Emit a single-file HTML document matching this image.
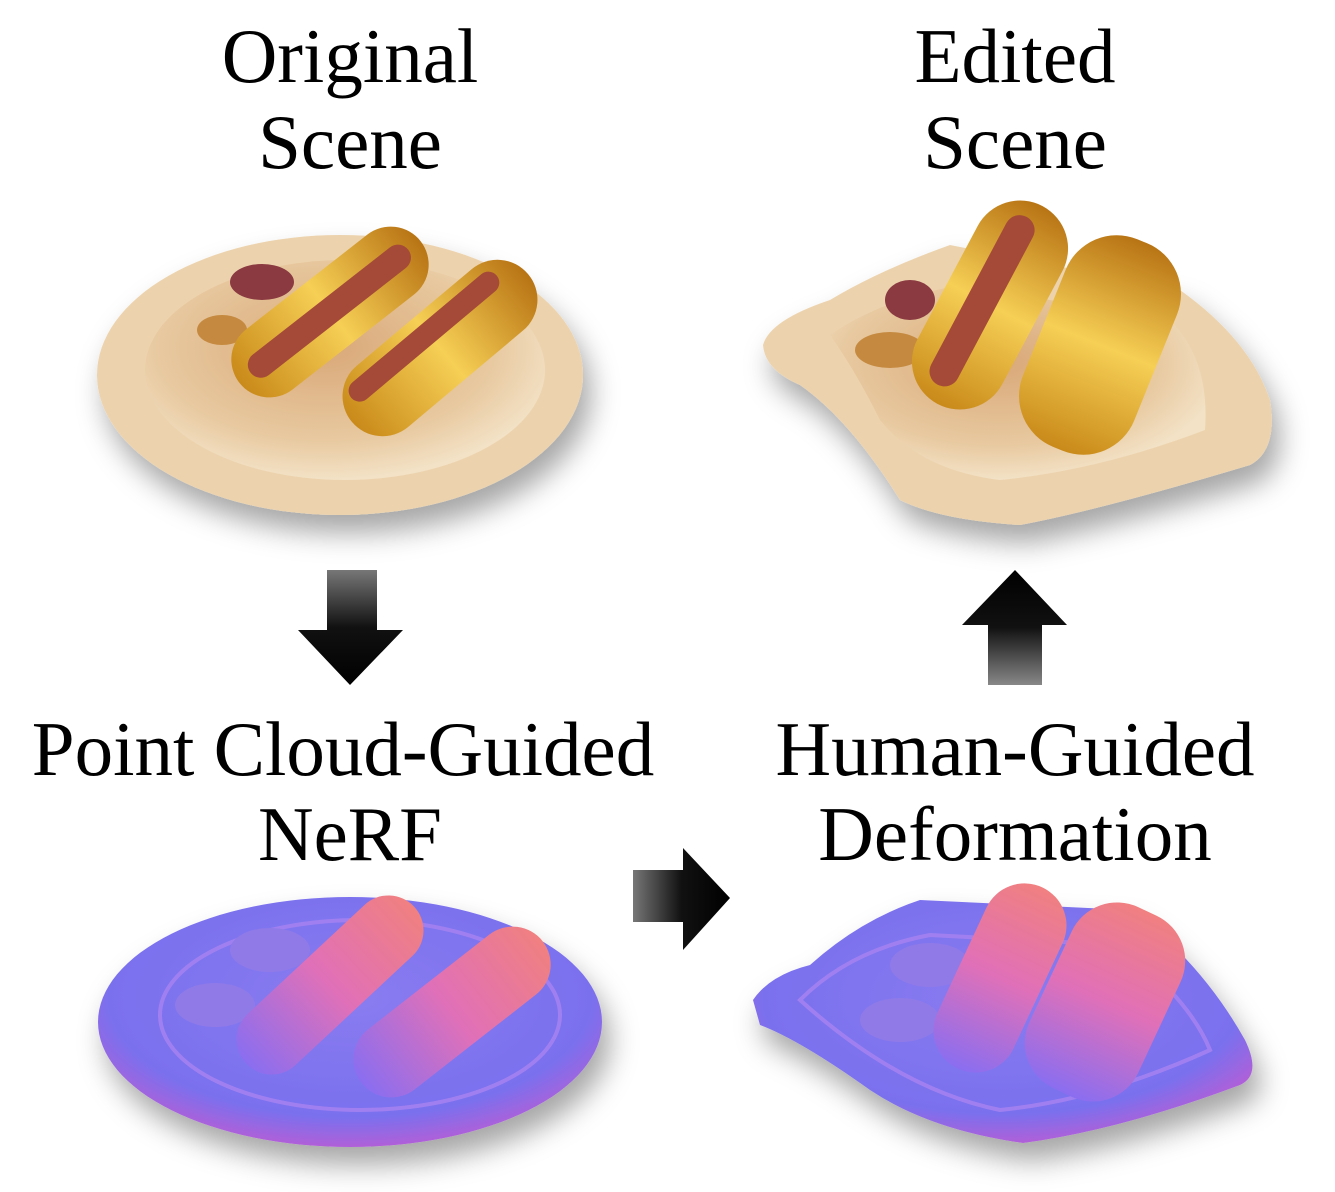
<!DOCTYPE html>
<html><head><meta charset="utf-8"><style>
html,body{margin:0;padding:0;background:#fff;}
svg{display:block;}
text{font-family:"Liberation Serif","DejaVu Serif",serif;font-size:77px;fill:#000;text-anchor:middle;}
</style></head><body>
<svg width="1335" height="1192" viewBox="0 0 1335 1192" xmlns="http://www.w3.org/2000/svg">
<defs>
<linearGradient id="ad" x1="0" y1="0" x2="0" y2="1"><stop offset="0" stop-color="#777"/><stop offset="0.5" stop-color="#111"/><stop offset="1" stop-color="#000"/></linearGradient>
<linearGradient id="au" x1="0" y1="1" x2="0" y2="0"><stop offset="0" stop-color="#888"/><stop offset="0.5" stop-color="#111"/><stop offset="1" stop-color="#000"/></linearGradient>
<linearGradient id="ar" x1="0" y1="0" x2="1" y2="0"><stop offset="0" stop-color="#777"/><stop offset="0.5" stop-color="#111"/><stop offset="1" stop-color="#000"/></linearGradient>
<radialGradient id="plate" cx="0.45" cy="0.4" r="0.6"><stop offset="0" stop-color="#d9a878"/><stop offset="0.7" stop-color="#e8c9a0"/><stop offset="1" stop-color="#f3e2c6"/></radialGradient>
<linearGradient id="bun" x1="0" y1="0" x2="1" y2="0"><stop offset="0" stop-color="#c98a1a"/><stop offset="0.5" stop-color="#f6cf55"/><stop offset="1" stop-color="#b87414"/></linearGradient>
<radialGradient id="np" cx="0.5" cy="0.4" r="0.6"><stop offset="0" stop-color="#8a7cf0"/><stop offset="0.8" stop-color="#7a70ee"/><stop offset="1" stop-color="#b060d8"/></radialGradient>
<linearGradient id="nd" x1="0" y1="0" x2="1" y2="0"><stop offset="0" stop-color="#8a6ef0"/><stop offset="0.5" stop-color="#e070b8"/><stop offset="1" stop-color="#f08080"/></linearGradient>
<filter id="sh" x="-20%" y="-20%" width="140%" height="150%"><feDropShadow dx="8" dy="18" stdDeviation="14" flood-color="#000" flood-opacity="0.35"/></filter>
</defs>

<text x="350" y="82">Original</text>
<text x="350" y="168">Scene</text>
<text x="1015" y="82">Edited</text>
<text x="1015" y="168">Scene</text>
<text x="343" y="775">Point Cloud-Guided</text>
<text x="350" y="860">NeRF</text>
<text x="1015" y="775">Human-Guided</text>
<text x="1015" y="860">Deformation</text>

<!-- arrows -->
<polygon points="327,570 377,570 377,630 403,630 350,685 298,630 327,630" fill="url(#ad)"/>
<polygon points="1015,570 1067,625 1042,625 1042,685 988,685 988,625 962,625" fill="url(#au)"/>
<polygon points="633,870 683,870 683,848 730,898 683,950 683,922 633,922" fill="url(#ar)"/>

<!-- original plate -->
<g filter="url(#sh)">
<ellipse cx="340" cy="375" rx="243" ry="140" fill="#ecd3ae"/>
</g>
<ellipse cx="345" cy="370" rx="200" ry="110" fill="url(#plate)"/>
<ellipse cx="262" cy="282" rx="32" ry="18" fill="#8a3a40"/>
<ellipse cx="222" cy="330" rx="25" ry="15" fill="#c58a40"/>
<g transform="translate(330,312) rotate(-38)"><rect x="-115" y="-38" width="230" height="76" rx="38" fill="url(#bun)"/><rect x="-100" y="-14" width="200" height="26" rx="13" fill="#a54a38"/></g>
<g transform="translate(440,348) rotate(-40)"><rect x="-115" y="-40" width="230" height="80" rx="40" fill="url(#bun)"/><rect x="-100" y="-30" width="190" height="22" rx="11" fill="#a54a38"/></g>

<!-- edited plate -->
<g filter="url(#sh)">
<path d="M763,345 Q770,320 830,300 Q880,270 950,245 L1180,290 Q1250,340 1270,400 Q1278,450 1250,465 Q1100,510 1020,525 Q940,520 900,500 Q850,420 800,385 Q765,370 763,345Z" fill="#ecd3ae"/>
</g>
<path d="M830,335 Q880,300 960,285 L1170,320 Q1210,360 1205,430 Q1100,470 1000,480 Q920,470 880,420 Q855,370 830,335Z" fill="url(#plate)"/>
<ellipse cx="890" cy="350" rx="35" ry="18" fill="#c58a40"/>
<ellipse cx="910" cy="300" rx="25" ry="20" fill="#8a3a40"/>
<g transform="translate(990,305) rotate(-62)"><rect x="-112" y="-48" width="224" height="96" rx="48" fill="url(#bun)"/><rect x="-95" y="-24" width="190" height="30" rx="15" fill="#a54a38"/></g>
<g transform="translate(1100,345) rotate(-68)"><rect x="-112" y="-60" width="224" height="120" rx="55" fill="url(#bun)"/></g>

<!-- normal plate left -->
<g filter="url(#sh)">
<ellipse cx="350" cy="1022" rx="252" ry="125" fill="url(#np)"/>
</g>
<ellipse cx="360" cy="1015" rx="200" ry="95" fill="none" stroke="#a080f0" stroke-width="4"/>
<ellipse cx="270" cy="950" rx="40" ry="22" fill="#8f7ae8"/>
<ellipse cx="215" cy="1005" rx="40" ry="22" fill="#8f7ae8"/>
<g transform="translate(330,985) rotate(-43)"><rect x="-115" y="-35" width="230" height="70" rx="35" fill="url(#nd)"/></g>
<g transform="translate(452,1012) rotate(-38)"><rect x="-115" y="-38" width="230" height="76" rx="38" fill="url(#nd)"/></g>

<!-- normal plate right -->
<g filter="url(#sh)">
<path d="M753,1000 Q770,975 810,965 Q860,920 920,900 L1130,910 Q1200,960 1245,1040 Q1262,1075 1240,1085 Q1120,1130 1023,1143 Q930,1130 870,1090 Q800,1040 760,1025Z" fill="url(#np)"/>
</g>
<path d="M800,1000 Q850,950 930,935 L1120,945 Q1190,1000 1210,1050 Q1100,1100 1000,1110 Q900,1090 800,1000Z" fill="none" stroke="#a080f0" stroke-width="4"/>
<ellipse cx="930" cy="965" rx="40" ry="22" fill="#8f7ae8"/>
<ellipse cx="900" cy="1020" rx="40" ry="22" fill="#8f7ae8"/>
<g transform="translate(1000,978) rotate(-65)"><rect x="-100" y="-42" width="200" height="84" rx="42" fill="url(#nd)"/></g>
<g transform="translate(1105,1002) rotate(-65)"><rect x="-100" y="-60" width="200" height="120" rx="50" fill="url(#nd)"/></g>
</svg>
</body></html>
